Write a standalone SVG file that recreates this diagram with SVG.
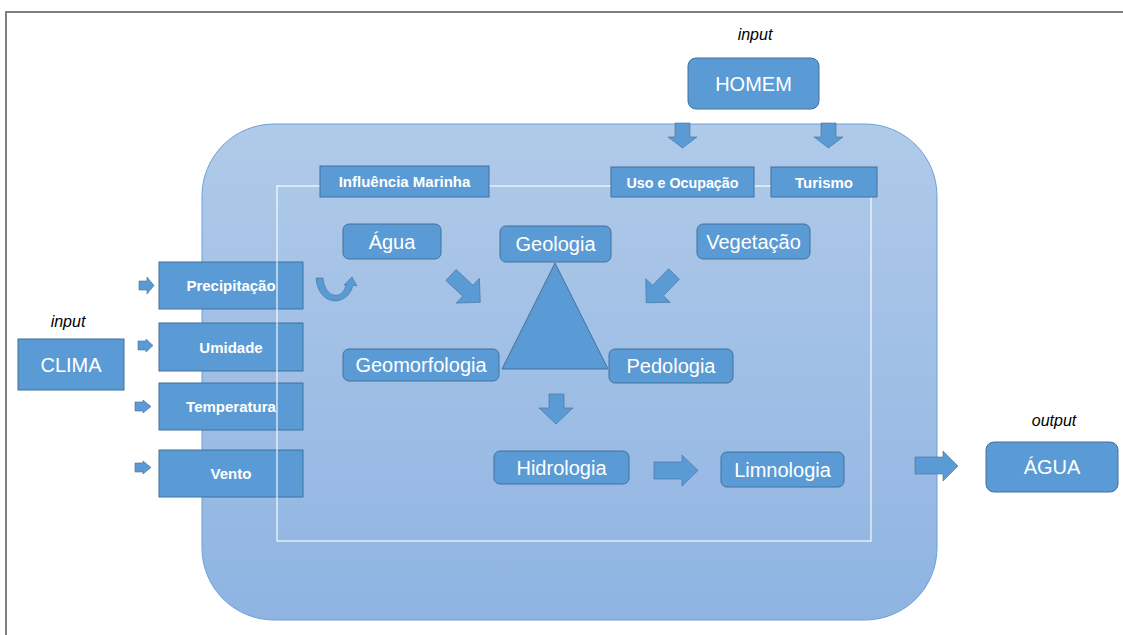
<svg xmlns="http://www.w3.org/2000/svg" width="1123" height="635" viewBox="0 0 1123 635">
<defs>
<linearGradient id="bg" x1="0" y1="0" x2="0" y2="1">
<stop offset="0" stop-color="#b0cae9"/>
<stop offset="1" stop-color="#8fb4e2"/>
</linearGradient>
<polygon id="diag" points="0,-7.5 23,-7.5 23,-17 40,0 23,17 23,7.5 0,7.5"/>
</defs>
<style>
.box{fill:#5b9bd5;stroke:#41719c;stroke-width:1}
.arr{fill:#5b9bd5;stroke:#41719c;stroke-width:0.6}
.lg{font-family:"Liberation Sans",Arial,sans-serif;font-size:20px;fill:#ffffff;text-anchor:middle}
.sm{font-family:"Liberation Sans",Arial,sans-serif;font-size:15px;font-weight:bold;fill:#ffffff;text-anchor:middle}
.it{font-family:"Liberation Sans",Arial,sans-serif;font-size:16px;font-style:italic;fill:#000000;text-anchor:middle}
</style>
<rect x="0" y="0" width="1123" height="635" fill="#ffffff"/>
<rect x="6" y="12" width="1130" height="640" fill="none" stroke="#7f7f7f" stroke-width="2"/>
<rect id="system" x="202" y="124" width="735" height="496" rx="72" ry="72" fill="url(#bg)" stroke="#6d9fd6" stroke-width="1"/>

<g id="precipitacao"><rect class="box" x="159" y="262" width="144" height="47"/><text class="sm" x="231" y="291">Precipitação</text></g>
<g id="umidade"><rect class="box" x="159" y="323" width="144" height="48"/><text class="sm" x="231" y="352.5">Umidade</text></g>
<g id="temperatura"><rect class="box" x="159" y="383" width="144" height="47"/><text class="sm" x="231" y="412">Temperatura</text></g>
<g id="vento"><rect class="box" x="159" y="450" width="144" height="47"/><text class="sm" x="231" y="479">Vento</text></g>

<rect id="inner" x="277" y="186" width="594" height="355" fill="none" stroke="#ffffff" stroke-opacity="0.85" stroke-width="1.3"/>

<text class="it" x="755" y="40">input</text>
<text class="it" x="68" y="327">input</text>
<text class="it" x="1054" y="426">output</text>

<g id="homem"><rect class="box" x="688" y="58" width="131" height="51" rx="8"/><text class="lg" x="753.5" y="90.5">HOMEM</text></g>
<g id="clima"><rect class="box" x="18" y="339" width="106" height="51"/><text class="lg" x="71" y="371.5">CLIMA</text></g>
<g id="influencia"><rect class="box" x="320" y="166" width="169" height="31"/><text class="sm" x="404.5" y="187">Influência Marinha</text></g>
<g id="uso"><rect class="box" x="611" y="167" width="143" height="30"/><text class="sm" x="682.5" y="187.5" textLength="112" lengthAdjust="spacingAndGlyphs">Uso e Ocupação</text></g>
<g id="turismo"><rect class="box" x="771" y="167" width="106" height="30"/><text class="sm" x="824" y="187.5">Turismo</text></g>
<g id="agua"><rect class="box" x="343" y="224" width="98" height="35" rx="6"/><text class="lg" x="392" y="248.5">Água</text></g>
<g id="geologia"><rect class="box" x="500" y="226" width="111" height="36" rx="6"/><text class="lg" x="555.5" y="251">Geologia</text></g>
<g id="vegetacao"><rect class="box" x="697" y="224" width="113" height="35" rx="6"/><text class="lg" x="753.5" y="248.5">Vegetação</text></g>
<g id="triangulo"><polygon class="box" points="555,263 502,369 608,369"/></g>
<g id="geomorfologia"><rect class="box" x="343" y="349" width="156" height="32" rx="6"/><text class="lg" x="421" y="372">Geomorfologia</text></g>
<g id="pedologia"><rect class="box" x="609" y="349" width="124" height="34" rx="6"/><text class="lg" x="671" y="373">Pedologia</text></g>
<g id="hidrologia"><rect class="box" x="494" y="451" width="135" height="33" rx="6"/><text class="lg" x="561.5" y="474.5">Hidrologia</text></g>
<g id="limnologia"><rect class="box" x="721" y="452" width="123" height="35" rx="6"/><text class="lg" x="782.5" y="476.5">Limnologia</text></g>
<g id="agua-out"><rect class="box" x="986" y="442" width="132" height="50" rx="8"/><text class="lg" x="1052" y="474">ÁGUA</text></g>

<g id="connectors">
<polygon class="arr" points="675,123 690,123 690,137 697,137 682.5,148 668,137 675,137"/>
<polygon class="arr" points="821,123 836,123 836,137 843,137 828.5,148 814,137 821,137"/>
<polygon class="arr" points="139,281 147,281 147,277 154,285.5 147,294 147,290 139,290"/>
<polygon class="arr" points="138,341 146,341 146,339 153,345.5 146,352 146,350 138,350"/>
<polygon class="arr" points="135,402 143,402 143,400 151,406.5 143,413 143,411 135,411"/>
<polygon class="arr" points="135,463 143,463 143,461 151,467.5 143,474 143,472 135,472"/>
<path class="arr" d="M316,278 L323,278 C324,290 331,297 338,295 C342,294 345,290 346,285 L344,285 L352,277 L357,286 L353,285 C351,294 345,300 336,301 C325,301 317,292 316,278 Z"/>
<use href="#diag" class="arr" transform="translate(451,275) rotate(43)"/>
<use href="#diag" class="arr" transform="translate(674,274) rotate(134)"/>
<polygon class="arr" points="549,394 564,394 564,408 573,408 556,424 539,408 549,408"/>
<polygon class="arr" points="654,462 682,462 682,455 698,470.5 682,486 682,479 654,479"/>
<polygon class="arr" points="915,457 943,457 943,451 958,466 943,481 943,474 915,474"/>
</g>
</svg>
